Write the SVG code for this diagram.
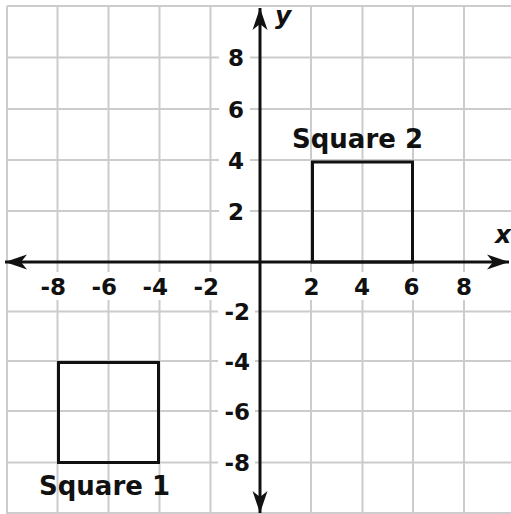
<svg xmlns="http://www.w3.org/2000/svg" width="511" height="514" viewBox="0 0 511 514">
<style>
.grid line{stroke:#cccccc;stroke-width:2}
.bg{fill:#ffffff}
.tick{font-family:"DejaVu Sans","Verdana",sans-serif;font-weight:bold;font-size:23px;fill:#111}
.lbl{font-family:"DejaVu Sans","Verdana",sans-serif;font-weight:bold;font-size:26px;fill:#111}
.axl{font-family:"DejaVu Sans","Verdana",sans-serif;font-weight:bold;font-style:italic;font-size:25px;fill:#111}
.sq{fill:none;stroke:#111;stroke-width:3}
.axis{stroke:#111;stroke-width:3;fill:none}
</style>
<defs>
<marker id="arr" viewBox="-22 -8 24 16" markerWidth="24" markerHeight="16" refX="0" refY="0" orient="auto" markerUnits="userSpaceOnUse">
<path d="M0,0 L-22,-7.5 L-16,0 L-22,7.5 Z" fill="#111"/>
</marker>
</defs>
<rect width="511" height="514" fill="#ffffff"/>
<g class="grid" id="grid">
<line x1="7" y1="6" x2="7" y2="514"/>
<line x1="57.5" y1="6" x2="57.5" y2="514"/>
<line x1="108.5" y1="6" x2="108.5" y2="514"/>
<line x1="159.5" y1="6" x2="159.5" y2="514"/>
<line x1="210.5" y1="6" x2="210.5" y2="514"/>
<line x1="311" y1="6" x2="311" y2="514"/>
<line x1="362.5" y1="6" x2="362.5" y2="514"/>
<line x1="413" y1="6" x2="413" y2="514"/>
<line x1="464" y1="6" x2="464" y2="514"/>
<line x1="7" y1="6" x2="511" y2="6"/>
<line x1="7" y1="57.5" x2="511" y2="57.5"/>
<line x1="7" y1="109" x2="511" y2="109"/>
<line x1="7" y1="160" x2="511" y2="160"/>
<line x1="7" y1="211" x2="511" y2="211"/>
<line x1="7" y1="311.5" x2="511" y2="311.5"/>
<line x1="7" y1="361" x2="511" y2="361"/>
<line x1="7" y1="411" x2="511" y2="411"/>
<line x1="7" y1="462.5" x2="511" y2="462.5"/>
<line x1="7" y1="513" x2="511" y2="513"/>
</g>
<g id="tick-backgrounds" class="bg">
<rect x="219" y="45" width="31" height="25"/>
<rect x="219" y="97" width="31" height="25"/>
<rect x="219" y="148" width="31" height="25"/>
<rect x="219" y="199" width="31" height="25"/>
<rect x="218" y="300" width="37" height="25"/>
<rect x="218" y="349" width="37" height="25"/>
<rect x="218" y="399" width="37" height="25"/>
<rect x="218" y="450" width="37" height="25"/>
<rect x="33" y="272" width="35" height="28"/>
<rect x="84" y="272" width="35" height="28"/>
<rect x="135" y="272" width="35" height="28"/>
<rect x="186" y="272" width="35" height="28"/>
<rect x="300" y="272" width="22" height="28"/>
<rect x="351" y="272" width="22" height="28"/>
<rect x="401" y="272" width="22" height="28"/>
<rect x="453" y="272" width="22" height="28"/>
</g>
<g id="y-ticks" class="tick">
<text x="236" y="66" text-anchor="middle">8</text>
<text x="236" y="117.5" text-anchor="middle">6</text>
<text x="236" y="168.5" text-anchor="middle">4</text>
<text x="236" y="219.5" text-anchor="middle">2</text>
<text x="250" y="320" text-anchor="end">-2</text>
<text x="250" y="369.5" text-anchor="end">-4</text>
<text x="250" y="419.5" text-anchor="end">-6</text>
<text x="250" y="471" text-anchor="end">-8</text>
</g>
<g id="x-ticks" class="tick">
<text x="66" y="295" text-anchor="end">-8</text>
<text x="117" y="295" text-anchor="end">-6</text>
<text x="168" y="295" text-anchor="end">-4</text>
<text x="219" y="295" text-anchor="end">-2</text>
<text x="311.5" y="295" text-anchor="middle">2</text>
<text x="362" y="295" text-anchor="middle">4</text>
<text x="411.5" y="295" text-anchor="middle">6</text>
<text x="464" y="295" text-anchor="middle">8</text>
</g>
<g id="square1">
<rect class="sq" x="58.5" y="362.5" width="100" height="100"/>
<text class="lbl" x="39" y="495">Square 1</text>
</g>
<g id="square2">
<rect class="sq" x="312.5" y="162" width="100" height="100"/>
<text class="lbl" x="292" y="148">Square 2</text>
</g>
<g id="connectors">
<line class="axis" x1="260" y1="262" x2="509" y2="262" marker-end="url(#arr)"/>
<line class="axis" x1="260" y1="262" x2="5" y2="262" marker-end="url(#arr)"/>
<line class="axis" x1="260" y1="262" x2="260" y2="8" marker-end="url(#arr)"/>
<line class="axis" x1="260" y1="262" x2="260" y2="513" marker-end="url(#arr)"/>
</g>
<g id="axis-labels" class="axl">
<text x="275" y="24">y</text>
<text x="495" y="243">x</text>
</g>
</svg>
